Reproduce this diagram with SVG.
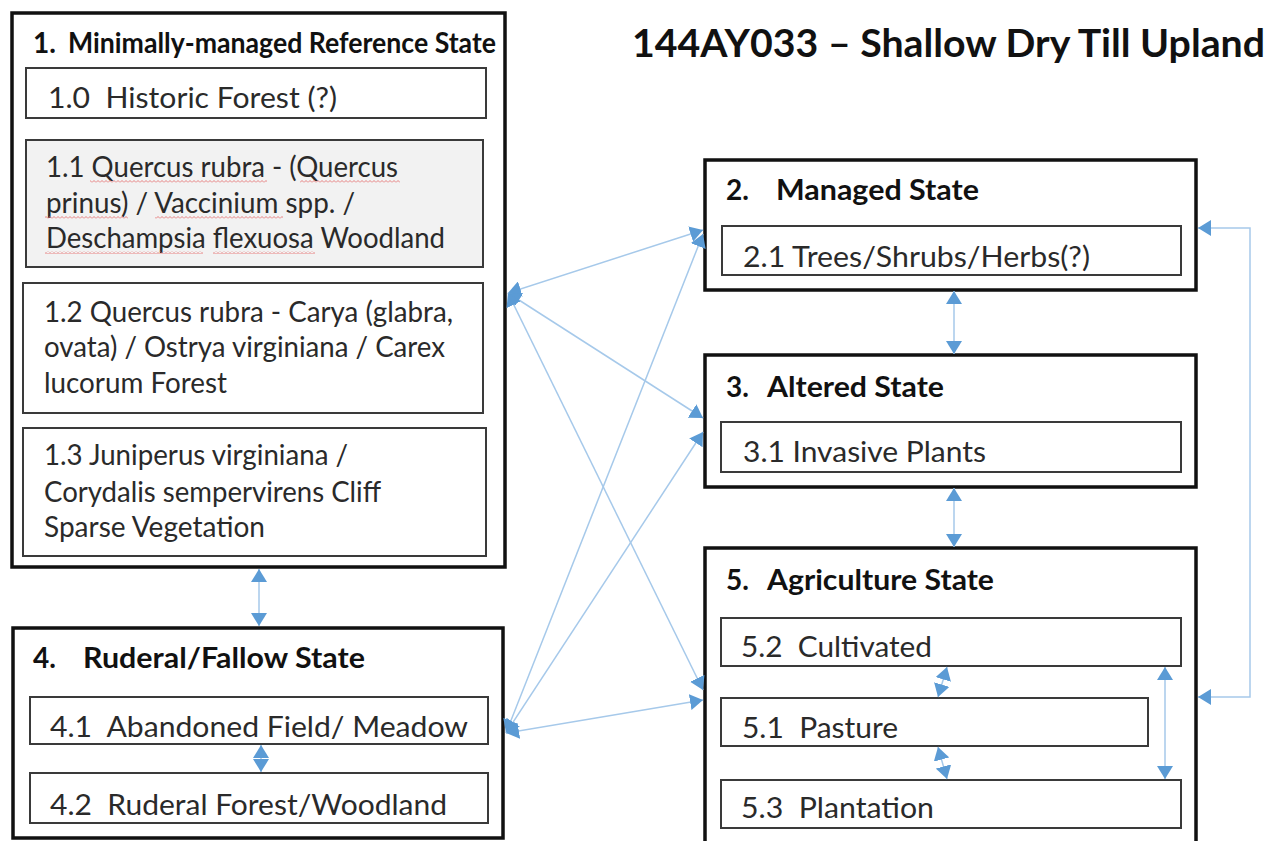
<svg xmlns="http://www.w3.org/2000/svg" width="1272" height="841" viewBox="0 0 1272 841">
<style>
.t{font-family:Lato,"Liberation Sans",sans-serif;font-size:29px;fill:#2a2a2a;white-space:pre}
.b{font-family:Lato,"Liberation Sans",sans-serif;font-size:28px;font-weight:bold;fill:#111;white-space:pre}
.h{font-family:Lato,"Liberation Sans",sans-serif;font-size:39px;font-weight:bold;fill:#111;white-space:pre}
.outer{fill:#fff;stroke:#111;stroke-width:3.5}
.sub{fill:#fff;stroke:#3a3a3a;stroke-width:2}
.grey{fill:#f2f2f2;stroke:#3a3a3a;stroke-width:2}
.c{fill:none;stroke:#a6c9ea;stroke-width:1.5;marker-start:url(#ah);marker-end:url(#ah)}
.sq{fill:url(#sq)}
</style>
<defs>
<marker id="ah" viewBox="0 0 13 16" refX="13" refY="8" markerWidth="13" markerHeight="16" markerUnits="userSpaceOnUse" orient="auto-start-reverse">
<path d="M0,0 L13,8 L0,16 Z" fill="#5b9bd5"/>
</marker>
<pattern id="sq" width="4" height="3" patternUnits="userSpaceOnUse">
<path d="M0,2.5 L2,0.5 L4,2.5" fill="none" stroke="#e57373" stroke-width="0.9"/>
</pattern>
</defs>
<rect width="1272" height="841" fill="#fff"/>

<text class="h" x="632" y="57" textLength="633" lengthAdjust="spacingAndGlyphs">144AY033 – Shallow Dry Till Upland</text>

<g id="state1">
<rect class="outer" x="12" y="13" width="493" height="554"/>
<text class="b" x="33" y="53">1.</text>
<text class="b" x="68" y="53" textLength="428" lengthAdjust="spacingAndGlyphs">Minimally-managed Reference State</text>
<g id="s1-0">
<rect class="sub" x="26" y="68" width="460" height="50"/>
<text class="t" x="48" y="108" textLength="289" lengthAdjust="spacingAndGlyphs">1.0  Historic Forest (?)</text>
</g>
<g id="s1-1">
<rect class="grey" x="26" y="140" width="457" height="127"/>
<text class="t" x="46" y="177" textLength="352" lengthAdjust="spacingAndGlyphs">1.1 Quercus rubra - (Quercus</text>
<text class="t" x="46" y="213" textLength="309" lengthAdjust="spacingAndGlyphs">prinus) / Vaccinium spp. /</text>
<text class="t" x="46" y="248" textLength="399" lengthAdjust="spacingAndGlyphs">Deschampsia flexuosa Woodland</text>
<rect class="sq" x="90" y="180" width="177" height="3"/>
<rect class="sq" x="300" y="180" width="100" height="3"/>
<rect class="sq" x="45" y="216" width="83" height="3"/>
<rect class="sq" x="155" y="216" width="128" height="3"/>
<rect class="sq" x="45" y="251" width="158" height="3"/>
<rect class="sq" x="213" y="251" width="102" height="3"/>
</g>
<g id="s1-2">
<rect class="sub" x="23" y="283" width="460" height="130"/>
<text class="t" x="44" y="322" textLength="409" lengthAdjust="spacingAndGlyphs">1.2 Quercus rubra - Carya (glabra,</text>
<text class="t" x="44" y="357" textLength="401" lengthAdjust="spacingAndGlyphs">ovata) / Ostrya virginiana / Carex</text>
<text class="t" x="44" y="393" textLength="183" lengthAdjust="spacingAndGlyphs">lucorum Forest</text>
</g>
<g id="s1-3">
<rect class="sub" x="23" y="428" width="463" height="128"/>
<text class="t" x="44" y="465" textLength="304" lengthAdjust="spacingAndGlyphs">1.3 Juniperus virginiana /</text>
<text class="t" x="44" y="502" textLength="337" lengthAdjust="spacingAndGlyphs">Corydalis sempervirens Cliff</text>
<text class="t" x="44" y="537" textLength="221" lengthAdjust="spacingAndGlyphs">Sparse Vegetation</text>
</g>
</g>

<g id="state4">
<rect class="outer" x="13" y="628" width="490" height="210"/>
<text class="b" x="33" y="668">4.</text>
<text class="b" x="83" y="668" textLength="282" lengthAdjust="spacingAndGlyphs">Ruderal/Fallow State</text>
<g id="s4-1">
<rect class="sub" x="30" y="697" width="458" height="47"/>
<text class="t" x="50" y="737" textLength="418" lengthAdjust="spacingAndGlyphs">4.1  Abandoned Field/ Meadow</text>
</g>
<g id="s4-2">
<rect class="sub" x="30" y="773" width="458" height="50"/>
<text class="t" x="50" y="815" textLength="397" lengthAdjust="spacingAndGlyphs">4.2  Ruderal Forest/Woodland</text>
</g>
</g>

<g id="state2">
<rect class="outer" x="705" y="160" width="491" height="130"/>
<text class="b" x="726" y="200">2.</text>
<text class="b" x="776" y="200" textLength="203" lengthAdjust="spacingAndGlyphs">Managed State</text>
<g id="s2-1">
<rect class="sub" x="722" y="226" width="459" height="49"/>
<text class="t" x="743" y="267" textLength="347" lengthAdjust="spacingAndGlyphs">2.1 Trees/Shrubs/Herbs(?)</text>
</g>
</g>

<g id="state3">
<rect class="outer" x="705" y="355" width="491" height="132"/>
<text class="b" x="726" y="397">3.</text>
<text class="b" x="767" y="397" textLength="177" lengthAdjust="spacingAndGlyphs">Altered State</text>
<g id="s3-1">
<rect class="sub" x="721" y="422" width="460" height="50"/>
<text class="t" x="743" y="462" textLength="243" lengthAdjust="spacingAndGlyphs">3.1 Invasive Plants</text>
</g>
</g>

<g id="state5">
<rect class="outer" x="705" y="548" width="491" height="296"/>
<text class="b" x="726" y="590">5.</text>
<text class="b" x="767" y="590" textLength="227" lengthAdjust="spacingAndGlyphs">Agriculture State</text>
<g id="s5-2">
<rect class="sub" x="721" y="618" width="460" height="48"/>
<text class="t" x="741" y="657" textLength="191" lengthAdjust="spacingAndGlyphs">5.2  Cultivated</text>
</g>
<g id="s5-1">
<rect class="sub" x="721" y="698" width="427" height="48"/>
<text class="t" x="742" y="738" textLength="156" lengthAdjust="spacingAndGlyphs">5.1  Pasture</text>
</g>
<g id="s5-3">
<rect class="sub" x="721" y="780" width="460" height="48"/>
<text class="t" x="741" y="818" textLength="193" lengthAdjust="spacingAndGlyphs">5.3  Plantation</text>
</g>
</g>

<g id="connectors">
<line class="c" x1="508" y1="293" x2="703" y2="230"/>
<line class="c" x1="508" y1="293" x2="703" y2="418"/>
<line class="c" x1="508" y1="293" x2="703" y2="690"/>
<line class="c" x1="506" y1="733" x2="703" y2="234"/>
<line class="c" x1="506" y1="733" x2="703" y2="432"/>
<line class="c" x1="506" y1="733" x2="703" y2="700"/>
<line class="c" x1="259" y1="569" x2="259" y2="626"/>
<line class="c" x1="261" y1="745" x2="261" y2="772"/>
<line class="c" x1="954" y1="291" x2="954" y2="354"/>
<line class="c" x1="954" y1="488" x2="954" y2="547"/>
<line class="c" x1="947" y1="667" x2="938" y2="697"/>
<line class="c" x1="938" y1="747" x2="947" y2="779"/>
<line class="c" x1="1165" y1="667" x2="1165" y2="779"/>
<path class="c" d="M1198,228 H1250 V697 H1198"/>
</g>
</svg>
